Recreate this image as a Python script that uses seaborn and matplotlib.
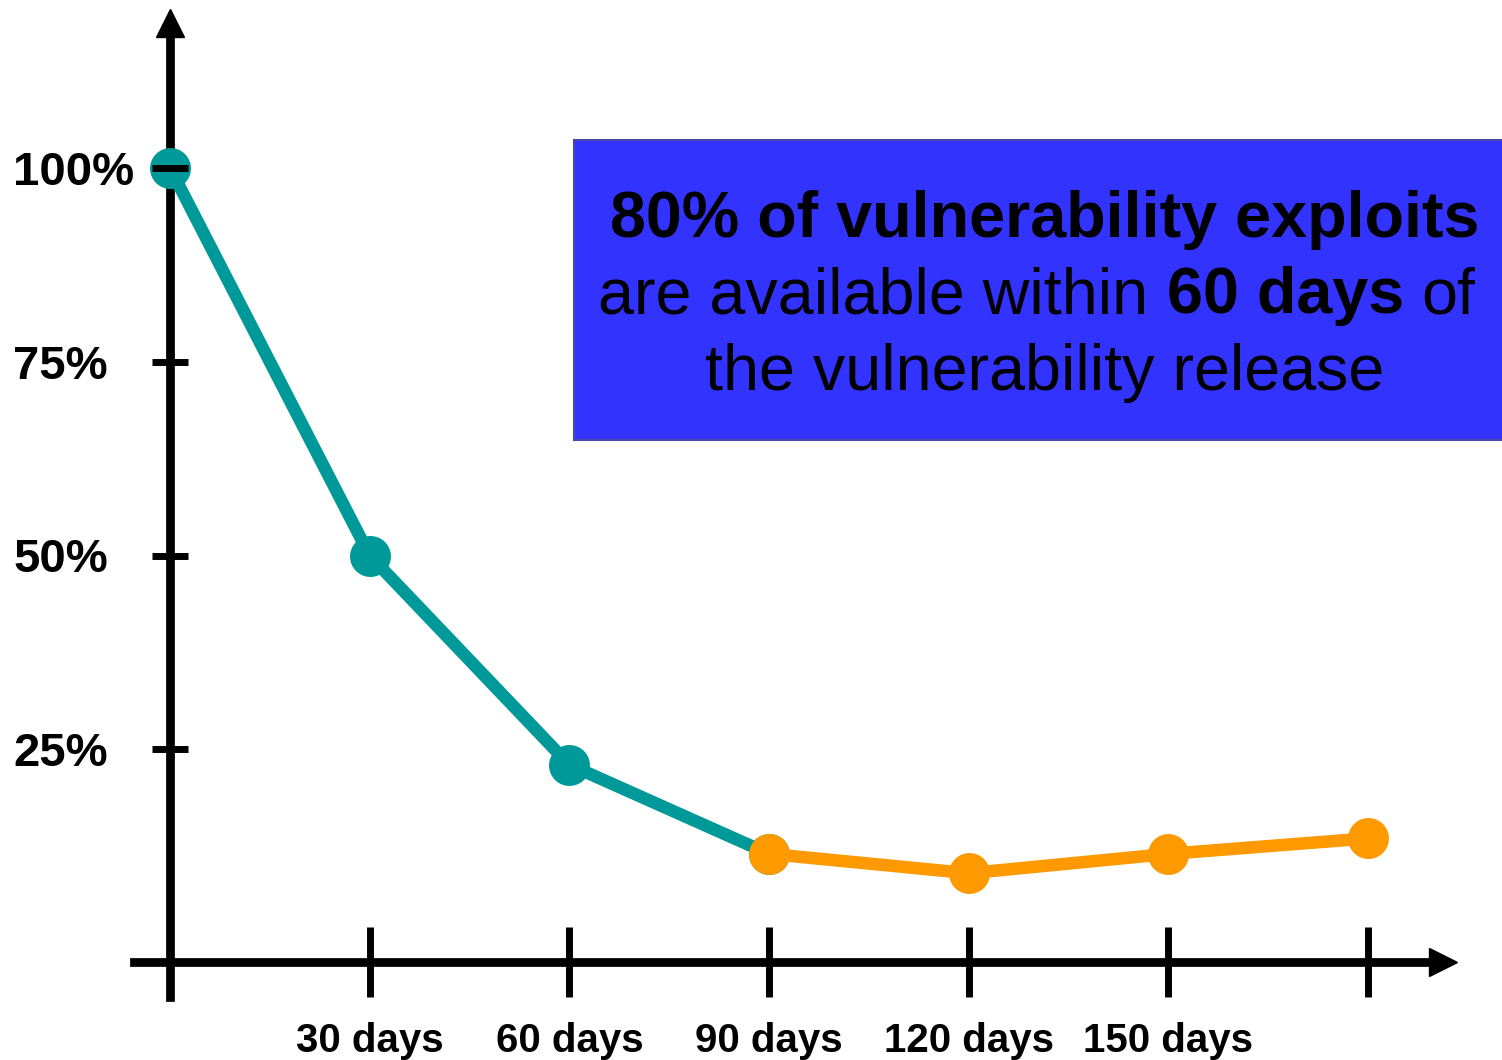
import matplotlib
matplotlib.use("Agg")
import matplotlib.pyplot as plt
from matplotlib.patches import Rectangle
from matplotlib.transforms import IdentityTransform
import pandas as pd
import seaborn as sns

# Share of exploits still to appear, by days since the vulnerability release
days_early = [0, 30, 60, 90]
share_early = [100, 50, 23, 11.5]
days_late = [90, 120, 150, 180]
share_late = [11.5, 9, 11.5, 13.5]

y_ticks = [25, 50, 75, 100]
y_tick_labels = ["25%", "50%", "75%", "100%"]
x_ticks = [0, 30, 60, 90, 120, 150, 180]
x_tick_labels = ["", "30 days", "60 days", "90 days", "120 days", "150 days", ""]

# callout text, one list of (words, weight) per line
callout_lines = [
    [("80% of vulnerability exploits", "bold")],
    [("are available within", "normal"), ("60 days", "bold"), ("of", "normal")],
    [("the vulnerability release", "normal")],
]

TEAL = "#009999"
ORANGE = "#FF9900"
BOX_FILL = "#3333FF"
BOX_EDGE = "#4848A8"

sns.set_style("white")
plt.rcParams["font.family"] = ["Liberation Sans", "DejaVu Sans"]

W, H, DPI = 1502, 1060, 100
fig = plt.figure(figsize=(W / DPI, H / DPI), dpi=DPI)
ax = fig.add_axes([0, 0, 1, 1])

# frame geometry in output pixels
x_origin_px, x_end_px = 170, 1368      # day 0 and day 180
y_zero_px, y_full_px = 943, 168        # 0% and 100%, measured from the top
ppd = (x_end_px - x_origin_px) / 180.0
ppp = (y_zero_px - y_full_px) / 100.0
ax.set_xlim(-x_origin_px / ppd, (W - x_origin_px) / ppd)
ax.set_ylim(-(H - y_zero_px) / ppp, 100 + y_full_px / ppp)


def px_to_day(px):
    return (px - x_origin_px) / ppd


def px_to_pct(py):
    return (y_zero_px - py) / ppp


# the two phases of the curve
early = pd.DataFrame({"day": days_early, "share": share_early})
late = pd.DataFrame({"day": days_late, "share": share_late})
line_kw = dict(lw=9, marker="o", markersize=29.5, markeredgewidth=0,
               legend=False, ax=ax)
sns.lineplot(data=early, x="day", y="share", color=TEAL, zorder=3, **line_kw)
sns.lineplot(data=late, x="day", y="share", color=ORANGE, zorder=3.1, **line_kw)

# axes drawn as crossing lines with arrow heads
for side in ["top", "right"]:
    ax.spines[side].set_visible(False)
x_axis_level = px_to_pct(962)
ax.spines["left"].set_position(("data", 0))
ax.spines["bottom"].set_position(("data", x_axis_level))
ax.spines["left"].set_bounds(px_to_pct(997), px_to_pct(30))
ax.spines["bottom"].set_bounds(px_to_day(134), px_to_day(1438))
for side in ["left", "bottom"]:
    ax.spines[side].set_linewidth(6.3)
    ax.spines[side].set_color("black")
    ax.spines[side].set_zorder(2.5)

ax.plot([0], [px_to_pct(22.5)], marker="^", ms=19.5, color="black",
        clip_on=False, zorder=2.6)
ax.plot([px_to_day(1443)], [x_axis_level], marker=">", ms=19.5, color="black",
        clip_on=False, zorder=2.6)

ax.set_yticks(y_ticks, y_tick_labels, fontweight="bold", ha="left")
ax.set_xticks(x_ticks, x_tick_labels, fontweight="bold")
ax.tick_params(axis="y", left=True, direction="inout", length=26, width=5,
               color="black", labelsize=34, labelcolor="black", pad=100)
ax.tick_params(axis="x", bottom=True, direction="inout", length=51, width=5,
               color="black", labelsize=29, labelcolor="black", pad=17.5)
ax.xaxis.set_zorder(4)
ax.yaxis.set_zorder(4)
ax.set_xlabel("")
ax.set_ylabel("")

# callout box
fig.add_artist(Rectangle((574, H - 440), 1508 - 574, 300,
                         transform=IdentityTransform(), facecolor=BOX_FILL,
                         edgecolor=BOX_EDGE, lw=1.5, zorder=1))

fig.canvas.draw()
renderer = fig.canvas.get_renderer()
CALLOUT_SIZE = 46.5


def text_width(s, weight):
    t = fig.text(0, 0, s, fontsize=CALLOUT_SIZE, fontweight=weight,
                 transform=IdentityTransform())
    w = t.get_window_extent(renderer).width
    t.remove()
    return w


space_w = text_width("n n", "normal") - text_width("nn", "normal")
line_centers = [1045, 1037, 1045]
baselines = [H - 237, H - 313, H - 390]
for pieces, cx, base in zip(callout_lines, line_centers, baselines):
    widths = [text_width(s, wt) for s, wt in pieces]
    total = sum(widths) + space_w * (len(pieces) - 1)
    x = cx - total / 2
    for (s, wt), w in zip(pieces, widths):
        fig.text(x, base, s, fontsize=CALLOUT_SIZE, fontweight=wt,
                 color="black", ha="left", va="baseline",
                 transform=IdentityTransform(), zorder=2)
        x += w + space_w

fig.savefig("out.png", dpi=DPI)
